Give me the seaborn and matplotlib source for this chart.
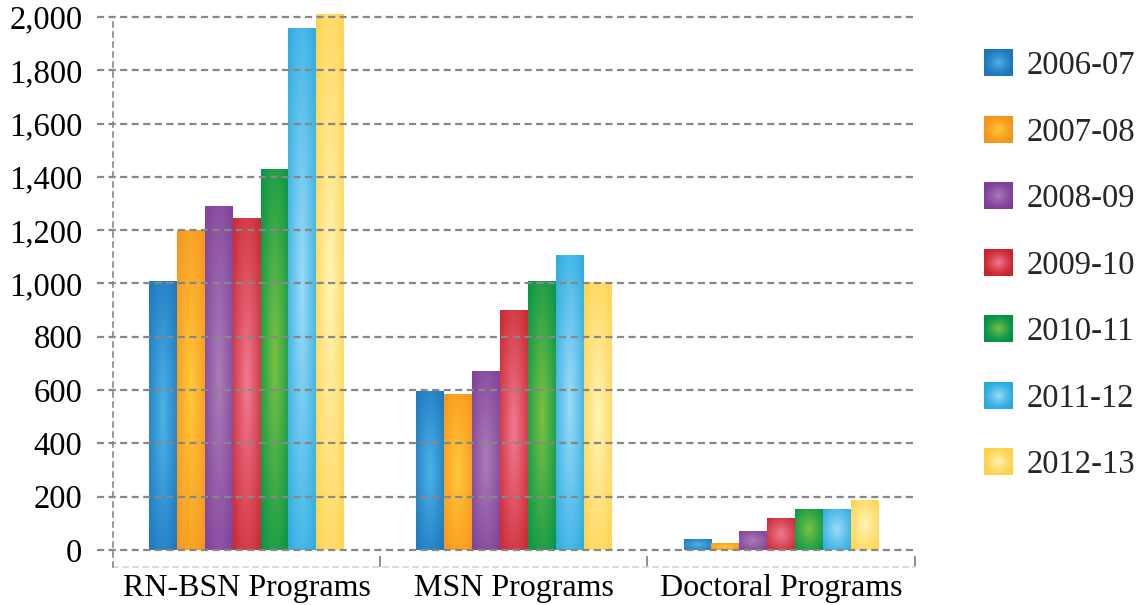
import numpy as np
import pandas as pd
import matplotlib
matplotlib.use("Agg")
import matplotlib.pyplot as plt
import seaborn as sns
from matplotlib.colors import to_rgb
from matplotlib.image import BboxImage
from matplotlib.transforms import Bbox, TransformedBbox
from matplotlib.patches import Rectangle
from matplotlib.ticker import FuncFormatter, FixedLocator

programs = ["RN-BSN Programs", "MSN Programs", "Doctoral Programs"]
years = ["2006-07", "2007-08", "2008-09", "2009-10", "2010-11", "2011-12", "2012-13"]
rn_bsn = [1010, 1200, 1290, 1245, 1430, 1960, 2010]
msn = [595, 585, 670, 900, 1010, 1105, 1005]
doctoral = [40, 25, 70, 120, 155, 155, 188]

base_colors = ["#1c75bc", "#f7941d", "#7f3f98", "#c9252c", "#00924a", "#27aae1", "#ffd24a"]
center_colors = ["#4bb4e8", "#ffc93a", "#ab7db8", "#f07b94", "#7cc242", "#9edbf7", "#fff4b8"]

rows = []
for prog, vals in zip(programs, [rn_bsn, msn, doctoral]):
    for yr, v in zip(years, vals):
        rows.append({"program": prog, "year": yr, "value": v})
df = pd.DataFrame(rows)

sns.set_theme(style="white")
plt.rcParams["font.family"] = ["Liberation Serif", "DejaVu Serif"]
FS = 23.5

fig = plt.figure(figsize=(11.47, 6.05), dpi=100)
ax = fig.add_axes([0.0985, 0.063, 0.699, 0.909])

sns.barplot(data=df, x="program", y="value", hue="year", order=programs,
            hue_order=years, palette=base_colors, saturation=1, width=0.73,
            linewidth=0, legend=False, ax=ax, zorder=3)


def gradient(base, center, nx=60, ny=160, R=1.5, p=1.15):
    u = np.linspace(0, 1, nx)
    v = np.linspace(0, 1, ny)
    U, V = np.meshgrid(u, v)
    d = np.sqrt(((U - 0.5) / 0.5) ** 2 + ((V - 0.5) / 0.5) ** 2) / R
    t = np.clip(1 - d, 0, 1) ** p
    b = np.array(to_rgb(base))
    c = np.array(to_rgb(center))
    return b[None, None, :] * (1 - t[..., None]) + c[None, None, :] * t[..., None]


# apply radial gradient to each bar (hue order -> containers)
for cont, bc, cc in zip(ax.containers, base_colors, center_colors):
    img = gradient(bc, cc)
    for patch in cont.patches:
        x, y = patch.get_x(), patch.get_y()
        w, h = patch.get_width(), patch.get_height()
        im = ax.imshow(img, extent=[x, x + w, y, y + h], origin="lower",
                       aspect="auto", interpolation="bilinear", zorder=3.5)
        im.set_clip_path(patch)

ax.set_xlim(-0.5, 2.5)
ax.set_ylim(-64, 2000)
ax.set_xlabel("")
ax.set_ylabel("")

grid_color = "#878787"
yticks = np.arange(0, 2001, 200)
ax.yaxis.set_major_locator(FixedLocator(yticks))
ax.yaxis.set_major_formatter(FuncFormatter(lambda v, p: f"{int(v):,}"))
for yv in yticks:
    ax.axhline(yv, xmin=-0.02, xmax=1, color=grid_color, lw=1.6,
               linestyle=(0, (3.2, 2.0)), clip_on=False, zorder=4)

ax.tick_params(axis="y", length=0, pad=22, labelsize=FS, labelcolor="black")
ax.tick_params(axis="x", which="major", length=0, pad=5, labelsize=FS - 0.5, labelcolor="black")
ax.xaxis.set_minor_locator(FixedLocator([0.5, 1.5, 2.5]))
ax.tick_params(axis="x", which="minor", direction="in", length=8, width=1.3,
               color=grid_color, bottom=True)

for s in ["top", "right"]:
    ax.spines[s].set_visible(False)
ax.spines["left"].set_color(grid_color)
ax.spines["left"].set_linewidth(1.2)
ax.spines["left"].set_linestyle((0, (3, 3)))
ax.spines["left"].set_zorder(5)
ax.spines["bottom"].set_color("#d4d4d4")
ax.spines["bottom"].set_linewidth(1.2)
ax.spines["bottom"].set_linestyle((0, (3, 3)))


class GradHandler:
    def __init__(self, base, center):
        self.img = gradient(base, center, 48, 48, R=1.1, p=1.3)

    def legend_artist(self, legend, orig_handle, fontsize, handlebox):
        x0, y0 = handlebox.xdescent, handlebox.ydescent
        w, h = handlebox.width, handlebox.height
        bb = TransformedBbox(Bbox.from_bounds(-x0, -y0, w, h), handlebox.get_transform())
        im = BboxImage(bb, interpolation="bilinear", origin="lower")
        im.set_data(self.img)
        handlebox.add_artist(im)
        return im


handles = [Rectangle((0, 0), 1, 1, color=c) for c in base_colors]
hmap = {h: GradHandler(b, c) for h, b, c in zip(handles, base_colors, center_colors)}
fig.legend(handles, years, handler_map=hmap, loc="upper left",
           bbox_to_anchor=(0.858, 0.918), frameon=False, fontsize=FS,
           handlelength=0.88, handleheight=0.88, handletextpad=0.42,
           labelspacing=1.07, borderaxespad=0, borderpad=0)

fig.savefig("out.png", dpi=100)
